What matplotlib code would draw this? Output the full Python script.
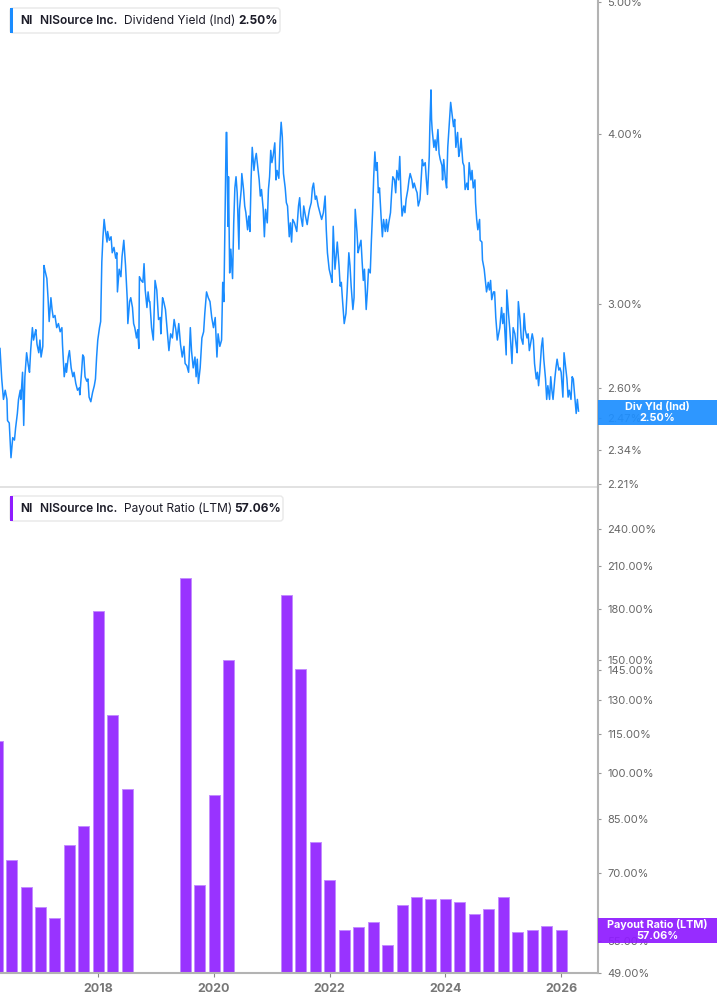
import matplotlib
matplotlib.use("Agg")
import matplotlib.pyplot as plt
from matplotlib.ticker import FixedLocator, NullLocator, FuncFormatter
from matplotlib.patches import FancyBboxPatch, Rectangle

plt.rcParams['font.family'] = ['Inter', 'DejaVu Sans']

# dividend yield (Ind), %, decimal years
yld_t = [2016.30, 2016.33, 2016.36, 2016.39, 2016.42, 2016.43, 2016.46, 2016.49, 2016.52, 2016.55,
         2016.57, 2016.60, 2016.62, 2016.65, 2016.66, 2016.69, 2016.71, 2016.73, 2016.76, 2016.79,
         2016.81, 2016.83, 2016.86, 2016.88, 2016.91, 2016.92, 2016.94, 2016.97, 2016.99, 2017.01,
         2017.04, 2017.06, 2017.08, 2017.11, 2017.13, 2017.15, 2017.18, 2017.20, 2017.22, 2017.25,
         2017.28, 2017.31, 2017.34, 2017.37, 2017.38, 2017.41, 2017.44, 2017.45, 2017.48, 2017.50,
         2017.53, 2017.56, 2017.58, 2017.61, 2017.64, 2017.67, 2017.68, 2017.71, 2017.73, 2017.75,
         2017.77, 2017.80, 2017.82, 2017.84, 2017.87, 2017.90, 2017.93, 2017.95, 2017.97, 2017.99,
         2018.02, 2018.04, 2018.06, 2018.08, 2018.10, 2018.12, 2018.15, 2018.16, 2018.19, 2018.22,
         2018.24, 2018.27, 2018.30, 2018.32, 2018.33, 2018.36, 2018.39, 2018.41, 2018.44, 2018.47,
         2018.50, 2018.51, 2018.54, 2018.56, 2018.59, 2018.61, 2018.63, 2018.66, 2018.68, 2018.70,
         2018.71, 2018.74, 2018.77, 2018.79, 2018.81, 2018.84, 2018.86, 2018.88, 2018.89, 2018.92,
         2018.95, 2018.98, 2019.01, 2019.04, 2019.07, 2019.08, 2019.11, 2019.13, 2019.16, 2019.19,
         2019.22, 2019.25, 2019.28, 2019.31, 2019.34, 2019.36, 2019.39, 2019.42, 2019.45, 2019.48,
         2019.50, 2019.53, 2019.56, 2019.59, 2019.61, 2019.64, 2019.67, 2019.69, 2019.71, 2019.73,
         2019.76, 2019.79, 2019.82, 2019.84, 2019.87, 2019.90, 2019.93, 2019.96, 2019.99, 2020.02,
         2020.05, 2020.07, 2020.10, 2020.13, 2020.15, 2020.17, 2020.19, 2020.21, 2020.22, 2020.24,
         2020.25, 2020.27, 2020.29, 2020.31, 2020.32, 2020.34, 2020.36, 2020.38, 2020.40, 2020.43,
         2020.44, 2020.47, 2020.48, 2020.51, 2020.53, 2020.55, 2020.58, 2020.60, 2020.62, 2020.64,
         2020.66, 2020.69, 2020.71, 2020.73, 2020.75, 2020.78, 2020.80, 2020.82, 2020.85, 2020.87,
         2020.89, 2020.92, 2020.94, 2020.96, 2020.98, 2021.00, 2021.02, 2021.05, 2021.07, 2021.09,
         2021.12, 2021.14, 2021.16, 2021.18, 2021.20, 2021.23, 2021.25, 2021.27, 2021.30, 2021.32,
         2021.34, 2021.36, 2021.39, 2021.43, 2021.46, 2021.48, 2021.50, 2021.53, 2021.55, 2021.58,
         2021.61, 2021.63, 2021.65, 2021.68, 2021.70, 2021.72, 2021.75, 2021.77, 2021.80, 2021.83,
         2021.86, 2021.89, 2021.92, 2021.94, 2021.96, 2021.99, 2022.02, 2022.04, 2022.06, 2022.09,
         2022.11, 2022.13, 2022.16, 2022.18, 2022.20, 2022.22, 2022.25, 2022.28, 2022.30, 2022.33,
         2022.35, 2022.37, 2022.40, 2022.42, 2022.44, 2022.47, 2022.49, 2022.51, 2022.54, 2022.56,
         2022.58, 2022.60, 2022.63, 2022.65, 2022.67, 2022.70, 2022.72, 2022.74, 2022.76, 2022.78,
         2022.80, 2022.82, 2022.84, 2022.86, 2022.89, 2022.91, 2022.93, 2022.96, 2022.98, 2023.00,
         2023.02, 2023.05, 2023.07, 2023.09, 2023.12, 2023.14, 2023.16, 2023.19, 2023.21, 2023.23,
         2023.25, 2023.28, 2023.30, 2023.32, 2023.35, 2023.37, 2023.39, 2023.42, 2023.44, 2023.46,
         2023.49, 2023.51, 2023.53, 2023.56, 2023.58, 2023.60, 2023.62, 2023.65, 2023.67, 2023.69,
         2023.72, 2023.73, 2023.75, 2023.76, 2023.77, 2023.80, 2023.82, 2023.84, 2023.87, 2023.89,
         2023.91, 2023.94, 2023.95, 2023.97, 2024.00, 2024.02, 2024.04, 2024.07, 2024.09, 2024.11,
         2024.14, 2024.16, 2024.18, 2024.21, 2024.23, 2024.25, 2024.27, 2024.30, 2024.32, 2024.34,
         2024.37, 2024.39, 2024.41, 2024.44, 2024.46, 2024.48, 2024.51, 2024.52, 2024.54, 2024.56,
         2024.59, 2024.60, 2024.63, 2024.64, 2024.67, 2024.69, 2024.71, 2024.74, 2024.76, 2024.78,
         2024.80, 2024.83, 2024.85, 2024.87, 2024.90, 2024.92, 2024.94, 2024.97, 2024.99, 2025.01,
         2025.03, 2025.05, 2025.06, 2025.09, 2025.11, 2025.13, 2025.15, 2025.17, 2025.20, 2025.22,
         2025.24, 2025.26, 2025.29, 2025.31, 2025.34, 2025.36, 2025.38, 2025.41, 2025.43, 2025.45,
         2025.47, 2025.50, 2025.52, 2025.54, 2025.57, 2025.59, 2025.61, 2025.63, 2025.66, 2025.68,
         2025.70, 2025.73, 2025.75, 2025.77, 2025.80, 2025.82, 2025.84, 2025.86, 2025.89, 2025.91,
         2025.93, 2025.96, 2025.98, 2026.00, 2026.03, 2026.05, 2026.07, 2026.10, 2026.12, 2026.14,
         2026.17, 2026.19, 2026.21, 2026.24, 2026.26, 2026.28, 2026.30]
yld_v = [2.78, 2.64, 2.55, 2.59, 2.55, 2.46, 2.45, 2.31, 2.39, 2.38,
         2.43, 2.49, 2.55, 2.59, 2.55, 2.67, 2.44, 2.65, 2.76, 2.70,
         2.67, 2.77, 2.88, 2.82, 2.86, 2.87, 2.80, 2.76, 2.82, 2.74,
         2.79, 3.20, 3.17, 3.13, 3.03, 2.91, 3.03, 2.97, 2.93, 2.94,
         2.88, 2.90, 2.86, 2.88, 2.80, 2.65, 2.71, 2.67, 2.74, 2.77,
         2.69, 2.65, 2.67, 2.62, 2.59, 2.60, 2.57, 2.67, 2.75, 2.74,
         2.65, 2.63, 2.64, 2.56, 2.54, 2.58, 2.61, 2.64, 2.74, 2.82,
         2.88, 2.91, 3.22, 3.36, 3.46, 3.40, 3.33, 3.39, 3.34, 3.36,
         3.27, 3.30, 3.24, 3.27, 3.06, 3.18, 3.14, 3.25, 3.34, 3.20,
         3.02, 2.90, 3.01, 3.03, 2.98, 2.90, 2.88, 2.83, 2.87, 2.78,
         3.14, 3.12, 3.11, 3.21, 3.07, 2.98, 3.06, 3.01, 3.01, 2.88,
         2.82, 3.12, 3.07, 2.92, 2.93, 2.85, 3.03, 3.01, 2.97, 2.87,
         2.77, 2.85, 2.83, 2.92, 2.87, 2.82, 2.90, 2.80, 2.74, 2.79,
         2.71, 2.70, 2.67, 2.88, 2.77, 2.69, 2.74, 2.65, 2.73, 2.62,
         2.69, 2.83, 2.86, 2.95, 3.06, 3.03, 3.01, 2.93, 2.88, 2.93,
         2.74, 2.85, 2.79, 2.82, 3.11, 3.01, 3.46, 4.01, 4.01, 3.42,
         3.72, 3.16, 3.29, 3.18, 3.13, 3.44, 3.65, 3.72, 3.62, 3.29,
         3.52, 3.64, 3.74, 3.64, 3.54, 3.50, 3.40, 3.48, 3.39, 3.70,
         3.91, 3.76, 3.83, 3.87, 3.80, 3.70, 3.60, 3.64, 3.52, 3.36,
         3.52, 3.44, 3.64, 3.72, 3.89, 3.81, 3.85, 3.94, 3.70, 3.76,
         3.71, 3.94, 4.08, 3.98, 3.74, 3.65, 3.56, 3.54, 3.36, 3.44,
         3.33, 3.46, 3.44, 3.39, 3.54, 3.59, 3.48, 3.42, 3.54, 3.48,
         3.43, 3.48, 3.52, 3.56, 3.65, 3.68, 3.58, 3.60, 3.54, 3.50,
         3.46, 3.50, 3.60, 3.40, 3.27, 3.18, 3.14, 3.11, 3.42, 3.18,
         3.25, 3.33, 3.20, 3.09, 3.11, 3.02, 2.90, 2.95, 3.06, 3.27,
         3.20, 3.09, 2.97, 3.03, 3.52, 3.39, 3.27, 3.30, 3.34, 3.22,
         3.12, 3.18, 2.97, 3.06, 3.18, 3.16, 3.34, 3.50, 3.72, 3.88,
         3.76, 3.81, 3.62, 3.65, 3.46, 3.36, 3.46, 3.39, 3.46, 3.39,
         3.44, 3.50, 3.62, 3.72, 3.70, 3.62, 3.76, 3.70, 3.85, 3.62,
         3.48, 3.54, 3.50, 3.58, 3.64, 3.70, 3.74, 3.70, 3.65, 3.68,
         3.64, 3.62, 3.54, 3.58, 3.70, 3.83, 3.79, 3.81, 3.70, 3.61,
         3.85, 4.05, 4.31, 4.10, 4.03, 3.91, 3.96, 3.89, 4.03, 3.87,
         3.83, 3.79, 3.70, 3.83, 3.70, 3.65, 3.91, 4.10, 4.22, 4.15,
         4.05, 4.10, 3.91, 4.01, 3.85, 3.89, 3.97, 3.81, 3.79, 3.64,
         3.68, 3.64, 3.81, 3.70, 3.76, 3.65, 3.70, 3.56, 3.46, 3.40,
         3.46, 3.34, 3.33, 3.23, 3.18, 3.12, 3.06, 3.11, 3.07, 3.12,
         3.02, 3.06, 3.06, 2.93, 2.82, 2.85, 2.88, 2.98, 2.90, 2.95,
         2.85, 2.75, 3.07, 2.95, 2.88, 2.80, 2.71, 2.88, 2.85, 2.80,
         2.76, 3.01, 2.92, 2.83, 2.80, 2.95, 2.87, 2.83, 2.85, 2.77,
         2.80, 2.85, 2.82, 2.71, 2.64, 2.67, 2.61, 2.67, 2.79, 2.83,
         2.73, 2.64, 2.55, 2.61, 2.55, 2.65, 2.59, 2.55, 2.64, 2.69,
         2.73, 2.68, 2.69, 2.67, 2.56, 2.76, 2.71, 2.64, 2.56, 2.59,
         2.55, 2.65, 2.64, 2.55, 2.49, 2.55, 2.50]

# payout ratio (LTM), % -- quarterly
pay_t = [2016.25, 2016.50, 2016.75, 2017.00, 2017.25, 2017.50, 2017.75, 2018.00, 2018.25, 2018.50,
         2019.50, 2019.75, 2020.00, 2020.25,
         2021.25, 2021.50, 2021.75, 2022.00, 2022.25, 2022.50, 2022.75, 2023.00, 2023.25, 2023.50,
         2023.75, 2024.00, 2024.25, 2024.50, 2024.75, 2025.00, 2025.25, 2025.50, 2025.75, 2026.00]
pay_v = [112.5, 73.4, 66.6, 62.0, 59.6, 77.4, 82.8, 178.5, 123.1, 94.5,
         200.8, 67.1, 92.5, 149.8,
         189.0, 145.1, 78.2, 68.3, 57.1, 57.8, 58.8, 54.2, 62.5, 64.3,
         63.8, 63.8, 63.1, 60.5, 61.6, 64.3, 56.7, 57.1, 58.0, 57.06]

top_ticks = [2.21, 2.34, 2.47, 2.60, 3.00, 4.00, 5.00]
bot_ticks = [49, 55, 70, 85, 100, 115, 130, 145, 150, 180, 210, 240]
years = [2018, 2020, 2022, 2024, 2026]

BLUE = '#1a8cff'
PURPLE = '#9933ff'
W, H = 717, 1005

fig = plt.figure(figsize=(W / 100, H / 100), dpi=100)


def px_axes(l, t, r, b):
    return fig.add_axes([l / W, 1 - b / H, (r - l) / W, (b - t) / H])


pct = FuncFormatter(lambda v, p: '%.2f%%' % v)

ax1 = px_axes(0, 0, 598, 487)
ax1.plot(yld_t, yld_v, color=BLUE, lw=1.1)
ax1.set_yscale('log')
ax1.set_ylim(2.198, 5.02)
ax1.set_xlim(2016.30, 2026.637)

ax2 = px_axes(0, 487, 598, 973)
ax2.bar(pay_t, [v - 49 for v in pay_v], bottom=49, width=0.19, color=PURPLE,
        edgecolor='#c38cff', linewidth=0.7)
ax2.set_yscale('log')
ax2.set_ylim(49, 278.5)
ax2.set_xlim(2016.30, 2026.637)

for ax, ticks in ((ax1, top_ticks), (ax2, bot_ticks)):
    ax.yaxis.tick_right()
    ax.yaxis.set_major_locator(FixedLocator(ticks))
    ax.yaxis.set_minor_locator(NullLocator())
    ax.yaxis.set_major_formatter(pct)
    ax.tick_params(axis='y', length=2.5, width=0.8, color='#999999', labelsize=8,
                   labelcolor='#666666', pad=4)
    ax.spines['left'].set_visible(False)
    ax.spines['top'].set_visible(False)
    ax.spines['right'].set_color('#b3b3b3')
    ax.spines['right'].set_linewidth(1.5)
    ax.set_facecolor('none')

ax1.tick_params(axis='x', bottom=False, labelbottom=False)
ax1.spines['bottom'].set_color('#dddddd')
ax1.spines['bottom'].set_linewidth(1.2)

ax2.set_xticks(years)
ax2.set_xticklabels([str(y) for y in years], fontweight='bold')
ax2.tick_params(axis='x', length=3, width=0.8, color='#888888', labelsize=9,
                labelcolor='#777777', pad=4)
ax2.spines['bottom'].set_color('#b3b3b3')
ax2.spines['bottom'].set_linewidth(1.5)

# overlay in pixel coordinates for the legend chips and value tags
ov = fig.add_axes([0, 0, 1, 1])
ov.set_xlim(0, W)
ov.set_ylim(H, 0)
ov.axis('off')
ov.set_zorder(10)


def chip(top, color, parts, width):
    ov.add_patch(FancyBboxPatch((10, top), width, 25, boxstyle='round,pad=0,rounding_size=3',
                                fc='white', ec='#e8e8e8', lw=1))
    ov.add_patch(Rectangle((10, top), 3, 25, fc=color, ec='none'))
    for x, txt, wt in parts:
        ov.text(x, top + 13, txt, fontsize=8.6, fontweight=wt, color='#1c1c28',
                va='center', ha='left')


chip(8, BLUE, [(20, 'NI', 'bold'), (40, 'NISource Inc.', 'semibold'),
               (124, 'Dividend Yield (Ind)', 'normal'), (238, '2.50%', 'bold')], 270)
chip(496, '#8f1cff', [(20, 'NI', 'bold'), (40, 'NISource Inc.', 'semibold'),
                      (124, 'Payout Ratio (LTM)', 'normal'), (234, '57.06%', 'bold')], 273)


def tag(top, color, l1, l2):
    ov.add_patch(Rectangle((598, top), 119, 25.5, fc=color, ec='none', alpha=0.93))
    ov.text(657, top + 7, l1, fontsize=7.8, fontweight='bold', color='white', ha='center', va='center')
    ov.text(657, top + 18, l2, fontsize=7.8, fontweight='bold', color='white', ha='center', va='center')


tag(399.5, '#1e8fff', 'Div Yld (Ind)', '2.50%')
tag(917.5, '#8f1cff', 'Payout Ratio (LTM)', '57.06%')

fig.savefig('out.png', dpi=100)
